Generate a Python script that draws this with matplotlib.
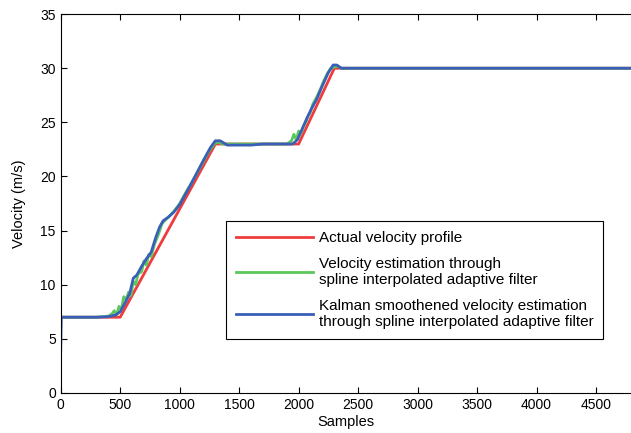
import matplotlib
matplotlib.use("Agg")
import matplotlib.pyplot as plt

plt.rcParams["font.family"] = ["Liberation Sans", "DejaVu Sans"]

# actual velocity profile (breakpoints)
actual_x = [0, 500, 1300, 2000, 2300, 4800]
actual_y = [7, 7, 23, 23, 30, 30]

# green: spline interpolated adaptive filter estimate (noisy)
green_x = [0, 300, 400, 430, 450, 470, 490, 510, 530, 550, 570, 590, 610, 630,
           650, 680, 700, 720, 740, 760, 790, 820, 850, 880, 920, 960, 1000,
           1050, 1100, 1150, 1200, 1250, 1290, 1320, 1360, 1400, 1600, 1900,
           1940, 1960, 1980, 2000, 2020, 2040, 2060, 2080, 2100, 2120, 2150,
           2180, 2210, 2240, 2270, 2300, 2330, 2360, 2400, 4800]
green_y = [7, 7, 7.1, 7.3, 7.6, 7.2, 8.0, 7.7, 8.9, 8.6, 9.3, 9.0, 10.3, 10.0,
           11.0, 11.2, 12.2, 11.8, 12.8, 12.6, 13.8, 14.6, 15.6, 16.0, 16.4,
           16.9, 17.5, 18.5, 19.4, 20.4, 21.4, 22.4, 23.0, 23.2, 23.0, 23.0,
           23.0, 23.0, 23.3, 23.9, 23.4, 24.2, 24.0, 24.6, 25.0, 25.6, 26.0,
           26.7, 27.3, 28.0, 28.8, 29.5, 30.0, 30.1, 30.2, 30.0, 30.0, 30.0]

# blue: Kalman smoothed estimate
blue_x = [0, 5, 300, 400, 460, 500, 540, 580, 610, 640, 680, 720, 760, 800,
          830, 860, 900, 950, 1000, 1100, 1200, 1260, 1300, 1340, 1400, 1500,
          1600, 1700, 1950, 1990, 2030, 2070, 2110, 2150, 2200, 2250, 2290,
          2320, 2360, 2400, 4800]
blue_y = [3.9, 7, 7, 7.05, 7.2, 7.5, 8.3, 9.2, 10.6, 10.9, 11.7, 12.4, 13.0,
          14.4, 15.3, 15.9, 16.2, 16.7, 17.4, 19.4, 21.5, 22.7, 23.3, 23.3,
          22.9, 22.9, 22.9, 23.0, 23.0, 23.4, 24.4, 25.4, 26.3, 27.1, 28.4,
          29.6, 30.3, 30.3, 30.0, 30.0, 30.0]

labels = ["Actual velocity profile",
          "Velocity estimation through\nspline interpolated adaptive filter",
          "Kalman smoothened velocity estimation\nthrough spline interpolated adaptive filter"]

fig = plt.figure(figsize=(6.31, 4.33), dpi=100)
ax = fig.add_axes([0.0962, 0.0924, 0.905, 0.875])

ax.plot(actual_x, actual_y, color="#ee3b3b", lw=2, label=labels[0])
ax.plot(green_x, green_y, color="#5cc85c", lw=2, label=labels[1])
ax.plot(blue_x, blue_y, color="#3a5fb8", lw=2, label=labels[2])

ax.set_xlim(0, 4800)
ax.set_ylim(0, 35)
ax.set_xticks(range(0, 5000, 500))
ax.set_yticks(range(0, 40, 5))
ax.tick_params(direction="in", top=True, right=False, labelsize=10,
               length=4, width=0.8)
ax.spines["right"].set_visible(False)
ax.set_xlabel("Samples", fontsize=10.5, labelpad=2)
ax.set_ylabel("Velocity (m/s)", fontsize=10.5, labelpad=10)

leg = ax.legend(loc="center", bbox_to_anchor=(0.62, 0.298), fontsize=11,
                fancybox=False, framealpha=1, edgecolor="black",
                handlelength=5, handletextpad=0.4, labelspacing=0.75,
                borderpad=0.65)
leg.get_frame().set_linewidth(0.8)

fig.savefig("out.png", dpi=100)
